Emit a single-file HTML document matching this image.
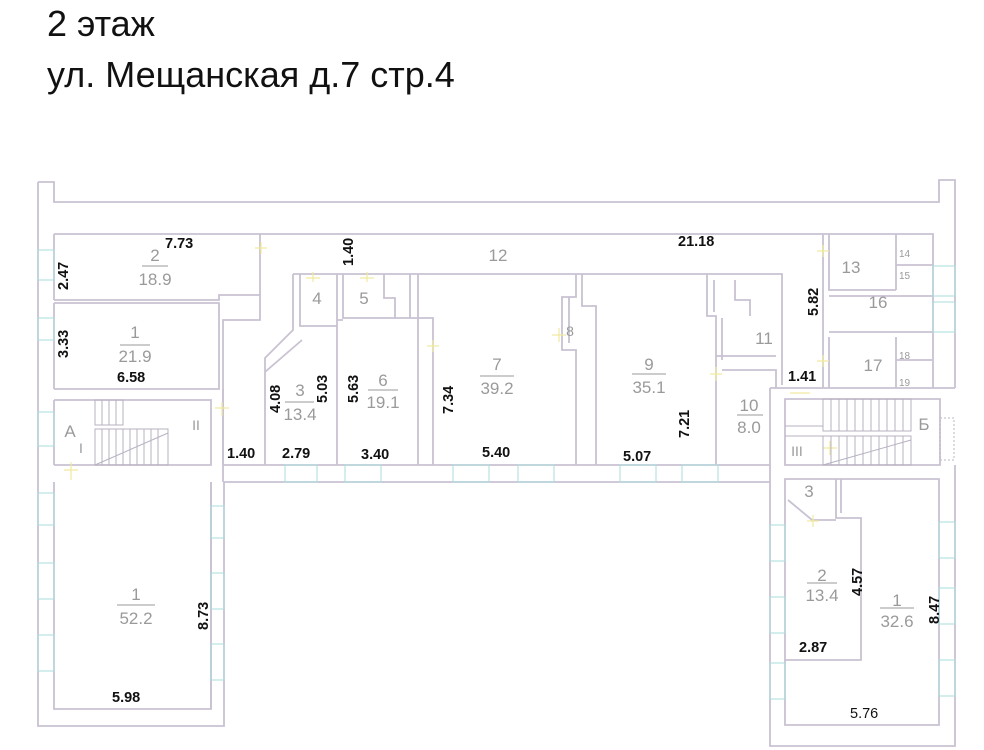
<!DOCTYPE html>
<html><head><meta charset="utf-8"><style>
body{margin:0;background:#fff}
svg{display:block}
.w{fill:none;stroke:#c9c2d2;stroke-width:1.8}
.win{fill:none;stroke:#a9dedd;stroke-width:1}
.d{font-family:"Liberation Sans",sans-serif;font-size:14.5px;font-weight:bold;fill:#111}
.r{font-family:"Liberation Sans",sans-serif;font-size:17px;fill:#9a9a9a}
.s{font-family:"Liberation Sans",sans-serif;font-size:10px;fill:#9a9a9a}
.t{font-family:"Liberation Sans",sans-serif;font-size:36px;fill:#111}
.dr{stroke:#f0eaa0;stroke-width:1.2;fill:none}
</style></head><body>
<svg width="984" height="750" viewBox="0 0 984 750" xmlns="http://www.w3.org/2000/svg">
<text class="t" x="47" y="36">2 этаж</text>
<text class="t" x="47" y="87">ул. Мещанская д.7 стр.4</text>

<path class="w" d="M38 182 H54 V202 H939 V180 H955 V388 M955 465 V746 H770 V482"/>
<path class="w" d="M38 182 V726 H224 V482 H770"/>
<path class="w" d="M54 234 H933 V388 M54 234 V300 M54 303 V389 M54 400 V465 M54 482 V709 H211 V482"/>
<path class="w" d="M54 300 H219 V295 H260 V234 M54 303 H219 V389 H54 M219 303 V320 M260 295 V320 H223 V465"/>
<path class="w" d="M54 400 H211 V465 H54 M223 389 V482"/>
<path class="w" d="M223 465 H770"/>
<path class="w" d="M293 274 H782 V385 M293 274 V330 L265 358 V465 M300 274 V326 H337 V274 M337 274 V465 M343 274 V318 H433 V465 M384 274 V298 H395 V318 M410 274 V318 M418 274 V465"/>
<path class="w" d="M337 320 L343 320 M302 340 L265 372"/>
<path class="w" d="M576 274 V297 H562 V350 H576 V465 M582 274 V306 H596 V465 M569 297 V343"/>
<path class="w" d="M707 274 V316 H716 V465 M722 318 V360 M716 356 H776 M722 370 H776 V388"/>
<path class="w" d="M714 280 V312 M735 280 V300 H750 V316"/>
<path class="w" d="M823 234 V388 M829 234 V290 H896 M829 296 H933 M829 332 H933 M829 337 V388 M896 234 V290 M896 337 V388 M896 265 H933 M896 360 H933"/>
<path class="w" d="M770 388 H955 M770 388 V482 M785 399 H940 V465 H785 Z"/>
<path class="w" d="M785 479 H939 V725 H785 Z M785 482 V495 M836 479 V518 H861 V660 H785 M841 479 V513 M788 500 L812 520 H836"/>
<path class="w" d="M211 482 V709"/>

<g class="win">
<rect x="38" y="250" width="16" height="30"/><rect x="38" y="318" width="16" height="22"/><rect x="38" y="412" width="16" height="34"/>
<rect x="38" y="493" width="16" height="32"/><rect x="38" y="563" width="16" height="36"/><rect x="38" y="635" width="16" height="36"/>
<rect x="211" y="506" width="13" height="32"/><rect x="211" y="573" width="13" height="36"/><rect x="211" y="644" width="13" height="36"/>
<rect x="285" y="465" width="32" height="17"/><rect x="345" y="465" width="36" height="17"/><rect x="453" y="465" width="36" height="17"/><rect x="518" y="465" width="36" height="17"/>
<rect x="620" y="465" width="36" height="17"/><rect x="682" y="465" width="36" height="17"/>
<rect x="933" y="266" width="22" height="30"/><rect x="933" y="302" width="22" height="30"/>
<rect x="770" y="525" width="15" height="36"/><rect x="770" y="597" width="15" height="36"/><rect x="770" y="663" width="15" height="36"/>
<rect x="939" y="522" width="16" height="36"/><rect x="939" y="588" width="16" height="36"/><rect x="939" y="660" width="16" height="36"/>
</g>
<rect x="940" y="418" width="14" height="42" fill="none" stroke="#bdb6c6" stroke-dasharray="2 2"/>

<g class="dr">
<path d="M255 248 h12 M261 242 v12 M215 408 h14 M222 402 v14 M64 470 h14 M71 462 v18 M306 278 h14 M313 272 v10 M360 278 h14 M367 272 v10 M433 340 v12 M427 346 h12 M552 335 h14 M559 328 v14 M716 367 v14 M710 374 h12 M823 245 v12 M817 251 h12 M823 355 v12 M817 361 h12 M790 393 h20 M823 448 h14 M830 441 v14 M813 515 v12 M807 521 h12"/>
</g>

<g stroke="#b8b1c2" stroke-width="1" fill="none">
<rect x="95" y="400" width="28" height="25"/>
<path d="M102 400 v25 M109 400 v25 M116 400 v25"/>
<rect x="95" y="429" width="73" height="36"/>
<path d="M102 429 v36 M109 429 v36 M116 429 v36 M123 429 v36 M130 429 v36 M137 429 v36 M144 429 v36 M151 429 v36 M158 429 v36 M95 465 L168 433"/>
<rect x="823" y="399" width="88" height="32"/>
<path d="M831 399 v32 M839 399 v32 M847 399 v32 M855 399 v32 M863 399 v32 M871 399 v32 M879 399 v32 M887 399 v32 M895 399 v32 M903 399 v32"/>
<rect x="823" y="436" width="88" height="29"/>
<path d="M831 436 v29 M839 436 v29 M847 436 v29 M855 436 v29 M863 436 v29 M871 436 v29 M879 436 v29 M887 436 v29 M895 436 v29 M903 436 v29 M823 465 L911 440"/>
<path d="M785 426 h38 M785 436 h38"/>
</g>

<g class="d">
<text x="165" y="248">7.73</text>
<text x="68" y="290" transform="rotate(-90 68 290)">2.47</text>
<text x="353" y="266" transform="rotate(-90 353 266)">1.40</text>
<text x="68" y="358" transform="rotate(-90 68 358)">3.33</text>
<text x="117" y="382">6.58</text>
<text x="227" y="458">1.40</text>
<text x="282" y="458">2.79</text>
<text x="361" y="459">3.40</text>
<text x="482" y="457">5.40</text>
<text x="623" y="461">5.07</text>
<text x="678" y="246">21.18</text>
<text x="280" y="413" transform="rotate(-90 280 413)">4.08</text>
<text x="327" y="403" transform="rotate(-90 327 403)">5.03</text>
<text x="358" y="403" transform="rotate(-90 358 403)">5.63</text>
<text x="453" y="414" transform="rotate(-90 453 414)">7.34</text>
<text x="689" y="438" transform="rotate(-90 689 438)">7.21</text>
<text x="818" y="316" transform="rotate(-90 818 316)">5.82</text>
<text x="788" y="381">1.41</text>
<text x="208" y="630" transform="rotate(-90 208 630)">8.73</text>
<text x="112" y="702">5.98</text>
<text x="862" y="596" transform="rotate(-90 862 596)">4.57</text>
<text x="799" y="652">2.87</text>
<text x="939" y="624" transform="rotate(-90 939 624)">8.47</text>
<text x="850" y="718" style="font-weight:normal">5.76</text>
</g>

<g class="r" text-anchor="middle">
<text x="155" y="261">2</text><text x="155" y="285">18.9</text><line x1="142" y1="266" x2="168" y2="266" stroke="#999"/>
<text x="135" y="338">1</text><text x="135" y="362">21.9</text><line x1="120" y1="345" x2="150" y2="345" stroke="#999"/>
<text x="300" y="396">3</text><text x="300" y="420">13.4</text><line x1="285" y1="402" x2="314" y2="402" stroke="#999"/>
<text x="383" y="386">6</text><text x="383" y="408">19.1</text><line x1="368" y1="390" x2="398" y2="390" stroke="#999"/>
<text x="497" y="370">7</text><text x="497" y="394">39.2</text><line x1="480" y1="376" x2="514" y2="376" stroke="#999"/>
<text x="649" y="370">9</text><text x="649" y="393">35.1</text><line x1="632" y1="374" x2="666" y2="374" stroke="#999"/>
<text x="749" y="411">10</text><text x="749" y="433">8.0</text><line x1="737" y1="415" x2="763" y2="415" stroke="#999"/>
<text x="136" y="600">1</text><text x="136" y="624">52.2</text><line x1="117" y1="605" x2="155" y2="605" stroke="#999"/>
<text x="822" y="581">2</text><text x="822" y="601">13.4</text><line x1="807" y1="583" x2="837" y2="583" stroke="#999"/>
<text x="897" y="606">1</text><text x="897" y="627">32.6</text><line x1="880" y1="608" x2="914" y2="608" stroke="#999"/>
<text x="498" y="261">12</text>
<text x="317" y="304">4</text>
<text x="364" y="304">5</text>
<text x="570" y="336" font-size="14">8</text>
<text x="764" y="344">11</text>
<text x="851" y="273">13</text>
<text x="878" y="308">16</text>
<text x="873" y="371">17</text>
<text x="70" y="437">A</text>
<text x="196" y="430" font-size="14">II</text>
<text x="81" y="453" font-size="14">I</text>
<text x="924" y="430">Б</text>
<text x="797" y="456" font-size="14">III</text>
<text x="809" y="497">3</text>
</g>
<g class="s"><text x="899" y="257">14</text><text x="899" y="279">15</text><text x="899" y="359">18</text><text x="899" y="386">19</text></g>
</svg>
</body></html>
